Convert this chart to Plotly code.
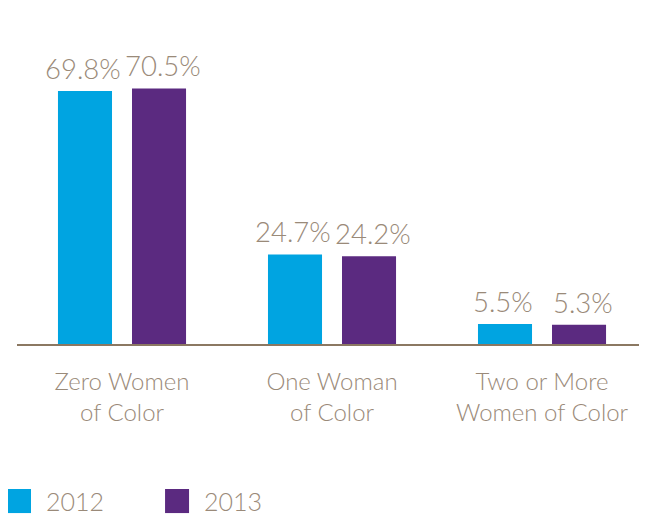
import plotly.graph_objects as go

categories = ["Zero Women<br>of Color", "One Woman<br>of Color", "Two or More<br>Women of Color"]
series_names = ["2012", "2013"]
values_2012 = [69.8, 24.7, 5.5]
values_2013 = [70.5, 24.2, 5.3]
colors = ["#00A4E1", "#5B2A80"]
text_color = "#9A8A79"
axis_color = "#8B7862"
FONT = "Lato, 'Open Sans', sans-serif"

fig = go.Figure()
for name, vals, col in zip(series_names, [values_2012, values_2013], colors):
    fig.add_trace(go.Bar(x=categories, y=vals, name=name, marker_color=col,
                         marker_line_width=0, showlegend=False,
                         hovertemplate="%{y:.1f}%<extra>" + name + "</extra>"))

# value labels above bars
annotations = []
for i, vals in enumerate([values_2012, values_2013]):
    shift = -39 if i == 0 else 41
    for c, v in zip(categories, vals):
        annotations.append(dict(x=c, y=v, xref="x", yref="y", text=f"{v:.1f}%",
                                showarrow=False, yanchor="bottom", xanchor="center",
                                xshift=shift, yshift=4,
                                font=dict(family=FONT, size=27.5, color=text_color, weight=300)))

# manual legend (larger square swatches)
leg_x = [-0.0159, 0.235]
for name, col, x0 in zip(series_names, colors, leg_x):
    fig.add_shape(type="rect", xref="paper", yref="paper", x0=x0 * 630 / 638,
                  x1=(x0 + 0.0381) * 630 / 638,
                  y0=-0.583, y1=-0.5, fillcolor=col, line_width=0)
    annotations.append(dict(x=(x0 + 0.0587) * 630 / 638, y=-0.541, xref="paper", yref="paper",
                            text=name, showarrow=False, xanchor="left", yanchor="middle",
                            font=dict(family=FONT, size=25, color=text_color, weight=300)))

fig.update_layout(
    width=647, height=515,
    margin=dict(l=9, r=0, t=46, b=179),
    paper_bgcolor="white", plot_bgcolor="white",
    barmode="group", bargap=0.295, bargroupgap=0.27,
    annotations=annotations,
    font=dict(family=FONT, color=text_color),
    xaxis=dict(showline=True, linecolor=axis_color, linewidth=2, ticks="",
               range=[-0.5, 2.538],
               tickfont=dict(family=FONT, size=24, color=text_color, weight=300),
               ticklabelstandoff=15, showgrid=False, zeroline=False),
    yaxis=dict(range=[0, 80], visible=False, showgrid=False, zeroline=False),
)

fig.write_html("out.html")
